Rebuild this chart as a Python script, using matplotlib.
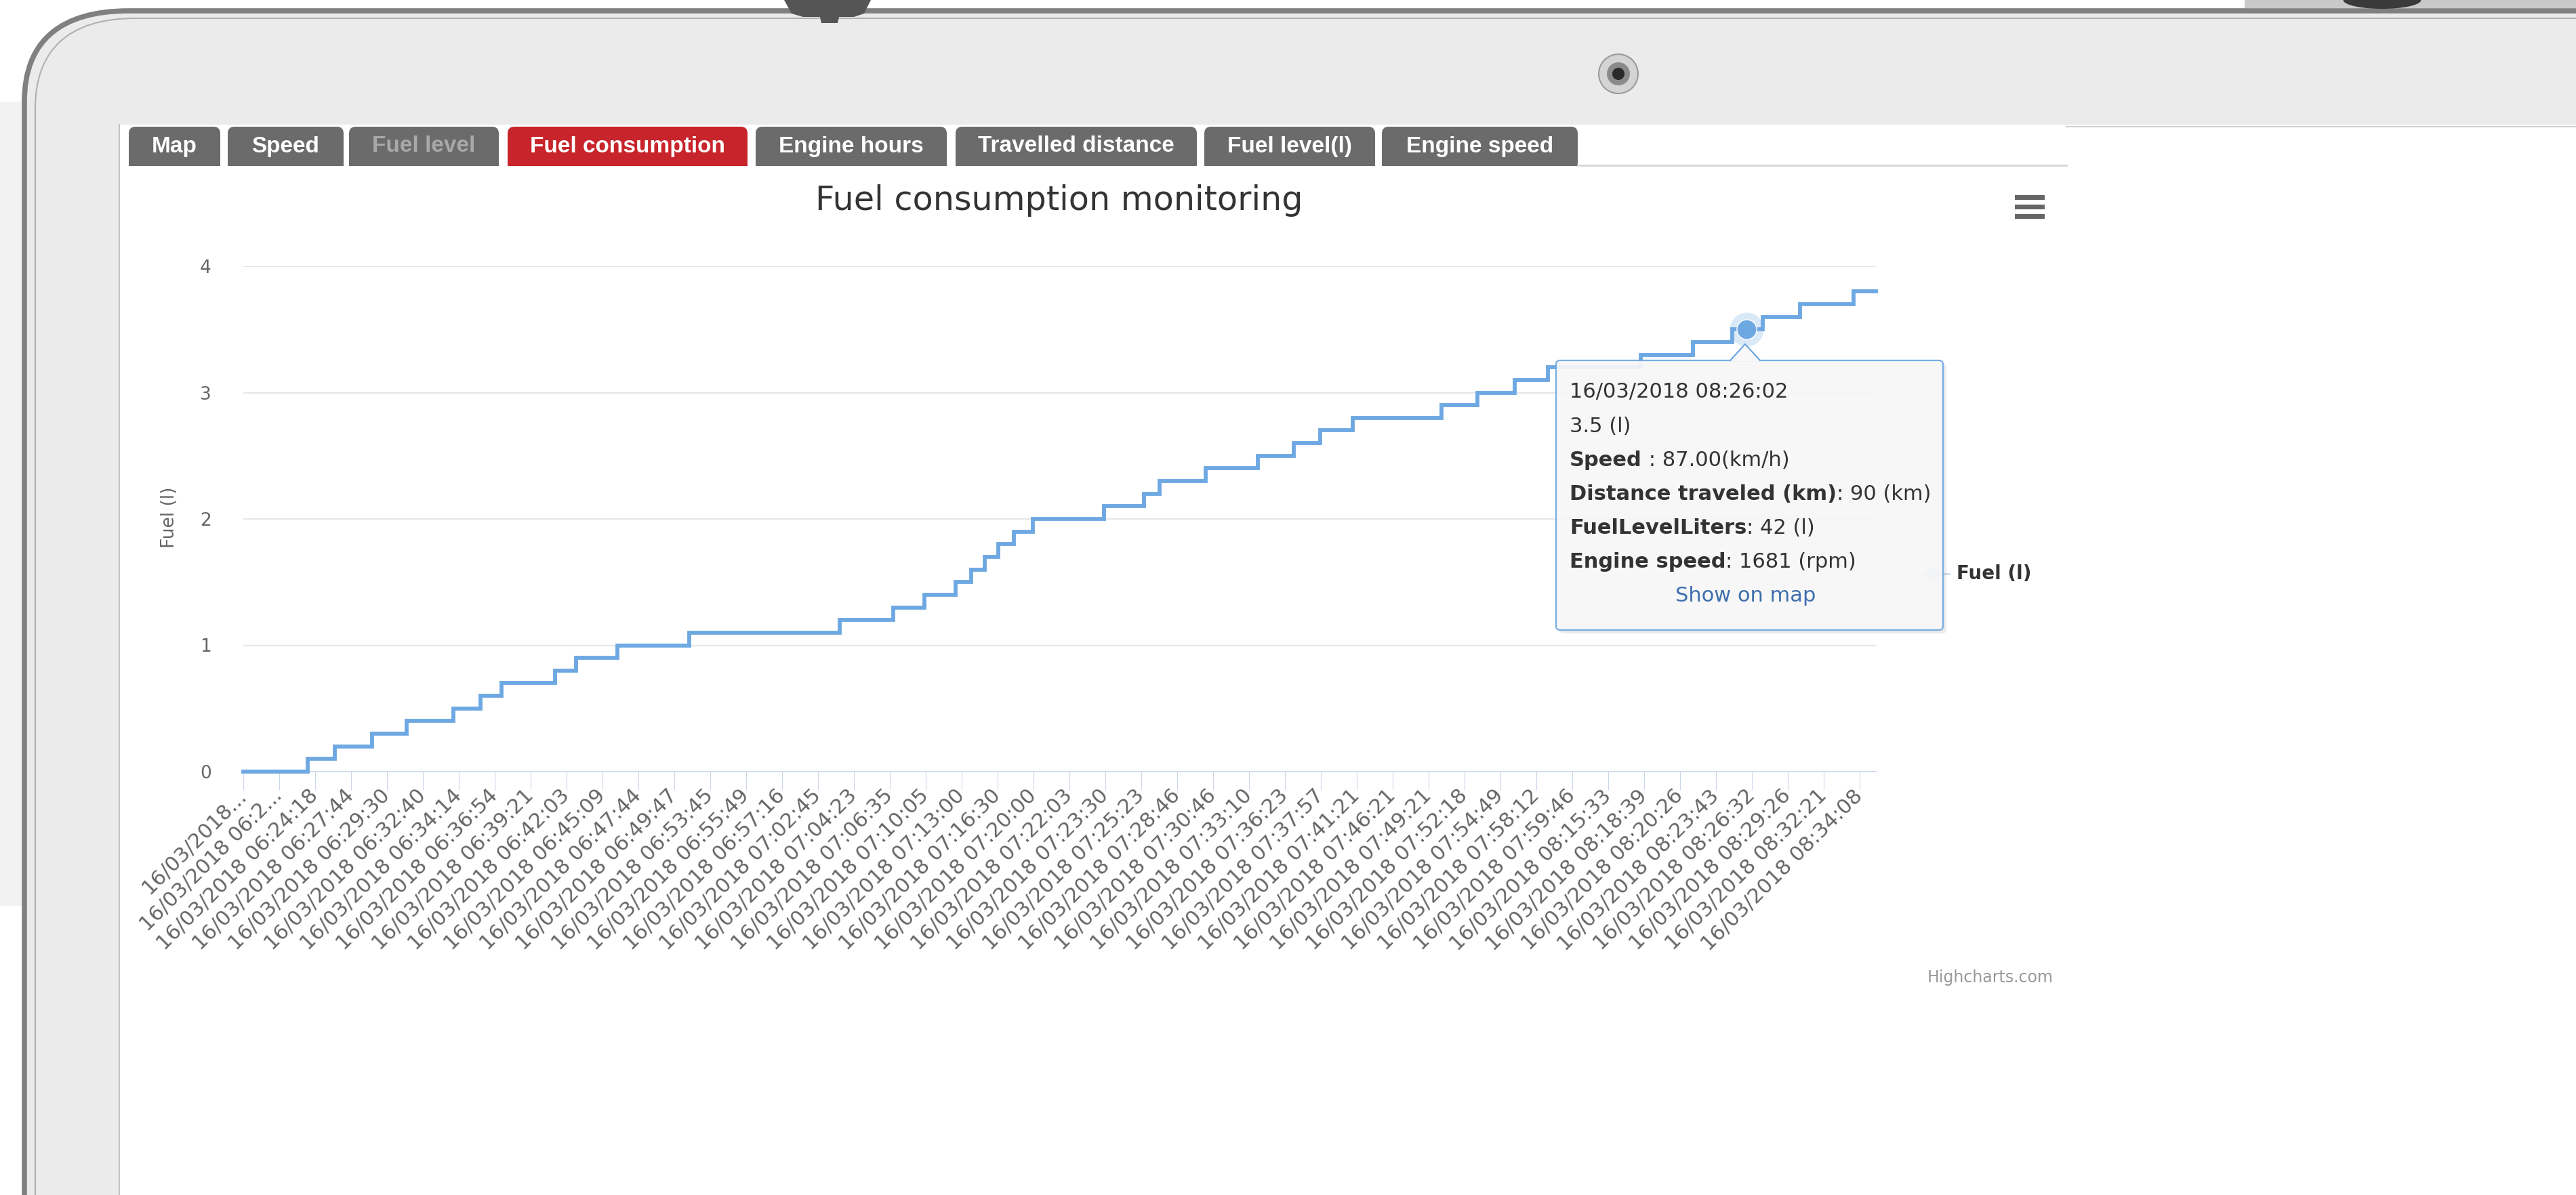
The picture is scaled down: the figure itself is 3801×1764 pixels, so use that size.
import matplotlib
matplotlib.use('Agg')
import matplotlib.pyplot as plt
from matplotlib.patches import FancyBboxPatch, Rectangle, Circle, Polygon, PathPatch, Ellipse
from matplotlib.path import Path

W, H = 3801, 1764

# ---- data ----
tab_names = ['Map', 'Speed', 'Fuel level', 'Fuel consumption', 'Engine hours',
             'Travelled distance', 'Fuel level(l)', 'Engine speed']

time_labels = ['16/03/2018...', '16/03/2018 06:2...',
               '16/03/2018 06:24:18', '16/03/2018 06:27:44', '16/03/2018 06:29:30',
               '16/03/2018 06:32:40', '16/03/2018 06:34:14', '16/03/2018 06:36:54',
               '16/03/2018 06:39:21', '16/03/2018 06:42:03', '16/03/2018 06:45:09',
               '16/03/2018 06:47:44', '16/03/2018 06:49:47', '16/03/2018 06:53:45',
               '16/03/2018 06:55:49', '16/03/2018 06:57:16', '16/03/2018 07:02:45',
               '16/03/2018 07:04:23', '16/03/2018 07:06:35', '16/03/2018 07:10:05',
               '16/03/2018 07:13:00', '16/03/2018 07:16:30', '16/03/2018 07:20:00',
               '16/03/2018 07:22:03', '16/03/2018 07:23:30', '16/03/2018 07:25:23',
               '16/03/2018 07:28:46', '16/03/2018 07:30:46', '16/03/2018 07:33:10',
               '16/03/2018 07:36:23', '16/03/2018 07:37:57', '16/03/2018 07:41:21',
               '16/03/2018 07:46:21', '16/03/2018 07:49:21', '16/03/2018 07:52:18',
               '16/03/2018 07:54:49', '16/03/2018 07:58:12', '16/03/2018 07:59:46',
               '16/03/2018 08:15:33', '16/03/2018 08:18:39', '16/03/2018 08:20:26',
               '16/03/2018 08:23:43', '16/03/2018 08:26:32', '16/03/2018 08:29:26',
               '16/03/2018 08:32:21', '16/03/2018 08:34:08']

# category position where each new reading starts, and the reading (litres)
step_pos = [0.0, 1.79, 2.54, 3.58, 4.54, 5.84, 6.60, 7.18, 8.67, 9.26, 10.41,
            12.42, 16.61, 18.10, 18.96, 19.83, 20.26, 20.64, 21.02, 21.45, 21.98,
            23.96, 25.07, 25.50, 26.80, 28.24, 29.24, 29.97, 30.88, 33.35, 34.36,
            35.40, 36.31, 38.90, 40.36, 41.45, 42.30, 43.34, 44.83]
fuel_l = [0.0, 0.1, 0.2, 0.3, 0.4, 0.5, 0.6, 0.7, 0.8, 0.9, 1.0,
          1.1, 1.2, 1.3, 1.4, 1.5, 1.6, 1.7, 1.8, 1.9, 2.0,
          2.1, 2.2, 2.3, 2.4, 2.5, 2.6, 2.7, 2.8, 2.9, 3.0,
          3.1, 3.2, 3.3, 3.4, 3.5, 3.6, 3.7, 3.8]
x_end = 45.45

hover_pos, hover_val = 41.85, 3.5
tooltip_rows = [('', '16/03/2018 08:26:02'), ('', '3.5 (l)'),
                ('Speed', ' : 87.00(km/h)'), ('Distance traveled (km)', ': 90 (km)'),
                ('FuelLevelLiters', ': 42 (l)'), ('Engine speed', ': 1681 (rpm)')]

# ---- layout (pixels) ----
tab_edges = [(190, 325), (336, 507), (515, 736), (749, 1103), (1115, 1397),
             (1410, 1766), (1777, 2029), (2039, 2328)]
series_color = '#6ea8e2'

fig = plt.figure(figsize=(W / 100, H / 100), dpi=100)
fig.patch.set_facecolor('white')

bg = fig.add_axes([0, 0, 1, 1], zorder=0)
bg.set_xlim(0, W)
bg.set_ylim(H, 0)
bg.axis('off')

# laptop bezel
bg.add_patch(Rectangle((0, 150), 34, 1187, fc='#f2f2f2', ec='none'))
outline = Path([(36, H), (36, 150), (36, 60), (90, 16), (190, 16), (W, 16), (W, H), (36, H)],
               [Path.MOVETO, Path.LINETO, Path.CURVE4, Path.CURVE4, Path.CURVE4,
                Path.LINETO, Path.LINETO, Path.CLOSEPOLY])
bg.add_patch(PathPatch(outline, fc='#ebebeb', ec='none'))
edge = Path([(36, H), (36, 150), (36, 60), (90, 16), (190, 16), (W, 16)],
            [Path.MOVETO, Path.LINETO, Path.CURVE4, Path.CURVE4, Path.CURVE4, Path.LINETO])
bg.add_patch(PathPatch(edge, fc='none', ec='#808080', lw=5.5))
inner = Path([(52, H), (52, 160), (52, 75), (100, 27), (200, 27), (W, 27)],
             [Path.MOVETO, Path.LINETO, Path.CURVE4, Path.CURVE4, Path.CURVE4, Path.LINETO])
bg.add_patch(PathPatch(inner, fc='none', ec='#b0b0b0', lw=1.5))

bg.add_patch(Polygon([(1157, 0), (1285, 0), (1275, 20), (1260, 25), (1238, 25), (1236, 34),
                      (1212, 34), (1210, 25), (1185, 25), (1168, 20)], closed=True,
                     fc='#555555', ec='none'))
bg.add_patch(Rectangle((3312, 0), 489, 12, fc='#c9c9c9', ec='none'))
bg.add_patch(Ellipse((3515, 0), 115, 26, fc='#3a3a3a', ec='none'))

# camera
bg.add_patch(Circle((2388, 109), 29, fc='#d4d4d4', ec='#9a9a9a', lw=1.5))
bg.add_patch(Circle((2388, 109), 17, fc='#8a8a8a', ec='none'))
bg.add_patch(Circle((2388, 109), 9, fc='#2a2a2a', ec='none'))

# screen
bg.add_patch(Rectangle((177, 184), W - 177, H - 184, fc='white', ec='none'))
bg.plot([176, 176], [184, H], color='#c4c4c4', lw=1.5)
bg.plot([3049, W], [187, 187], color='#d0d0d0', lw=1.5)
bg.plot([2328, 3049], [244, 244], color='#d6d6d6', lw=2)

# tabs
for (x0, x1), name in zip(tab_edges, tab_names):
    fc = '#c8242b' if name == 'Fuel consumption' else '#6b6b6b'
    bg.add_patch(FancyBboxPatch((x0, 187), x1 - x0, 58,
                                boxstyle='round,pad=0,rounding_size=10', fc=fc, ec='none'))
    bg.add_patch(Rectangle((x0, 215), x1 - x0, 30, fc=fc, ec='none'))
    tc = '#a8a8a8' if name == 'Fuel level' else 'white'
    bg.text((x0 + x1) / 2, 216, name, ha='center', va='center', color=tc,
            fontsize=24, fontweight='bold', family='Liberation Sans')

# title, axis title, menu icon, credit
bg.text(1563, 296, 'Fuel consumption monitoring', ha='center', va='center',
        fontsize=35.5, color='#333333')
bg.text(250, 764, 'Fuel (l)', ha='center', va='center', rotation=90,
        fontsize=19, color='#666666')
for yy in (291, 305, 319):
    bg.add_patch(Rectangle((2973, yy - 3.5), 44, 7, fc='#666666', ec='none'))
bg.text(3030, 1443, 'Highcharts.com', ha='right', va='center', fontsize=17, color='#999999')

# ---- chart ----
left, right, y0, y4 = 359, 2768, 1139, 393
ax = fig.add_axes([left / W, 1 - y0 / H, (right - left) / W, (y0 - y4) / H], zorder=2)
ax.patch.set_alpha(0)
xs = step_pos + [x_end]
ys = fuel_l + [fuel_l[-1]]
ax.plot(xs, ys, drawstyle='steps-post', color=series_color, lw=4.2,
        solid_joinstyle='miter', clip_on=False, zorder=3)
ax.plot([hover_pos], [hover_val], 'o', ms=36, color=series_color, alpha=0.25,
        mec='none', clip_on=False, zorder=4)
ax.plot([hover_pos], [hover_val], 'o', ms=21, color=series_color, mec='white',
        mew=1, clip_on=False, zorder=5)

ax.set_xlim(0, x_end)
ax.set_ylim(0, 4)
ax.set_yticks([0, 1, 2, 3, 4])
ax.set_xticks(range(len(time_labels)))
ax.set_xticklabels(time_labels, rotation=45, ha='right', va='center',
                   rotation_mode='anchor', fontsize=22, color='#666666')
ax.tick_params(axis='y', length=0, pad=34, labelsize=19, labelcolor='#666666')
ax.tick_params(axis='x', length=19.5, width=0.8, color='#ccd6eb', pad=3, direction='out')
ax.grid(axis='y', color='#e6e6e6', lw=1.5)
ax.set_axisbelow(True)
for s in ('top', 'right', 'left'):
    ax.spines[s].set_visible(False)
ax.spines['bottom'].set_color('#ccd6eb')
ax.spines['bottom'].set_linewidth(1.2)

# ---- legend + tooltip overlay ----
top = fig.add_axes([0, 0, 1, 1], zorder=5)
top.set_xlim(0, W)
top.set_ylim(H, 0)
top.axis('off')
top.plot([2832, 2876], [847, 847], color=series_color, lw=2, alpha=0.35)
top.add_patch(Circle((2852, 847), 10, fc=series_color, ec='none', alpha=0.35))
top.text(2887, 847, 'Fuel (l)', ha='left', va='center', fontsize=20,
         fontweight='bold', color='#333333')

# tooltip shadow, box and pointer
top.add_patch(FancyBboxPatch((2301, 537), 571, 398, boxstyle='round,pad=0,rounding_size=6',
                             fc='#000000', ec='none', alpha=0.08, zorder=6))
top.add_patch(FancyBboxPatch((2296, 532), 571, 398, boxstyle='round,pad=0,rounding_size=6',
                             fc='#f8f8f8', ec=series_color, lw=1.6, alpha=0.93, zorder=7))
top.add_patch(Polygon([(2553, 533.5), (2575, 508), (2597, 533.5)], closed=True,
                      fc='#f8f8f8', ec='none', zorder=8))
top.plot([2553, 2575, 2597], [532, 508, 532], color=series_color, lw=1.6, zorder=8)

row_y = [578, 630, 680, 730, 780, 830]
for (bold, rest), yy in zip(tooltip_rows, row_y):
    if bold:
        t1 = top.text(2316, yy, bold, ha='left', va='center', fontsize=22,
                      fontweight='bold', color='#333333', zorder=9)
        top.annotate(rest, xy=(1, 0.5), xycoords=t1, ha='left', va='center',
                     fontsize=22, color='#333333', zorder=9)
    else:
        top.text(2316, yy, rest, ha='left', va='center', fontsize=22,
                 color='#333333', zorder=9)
top.text(2576, 880, 'Show on map', ha='center', va='center', fontsize=22,
         color='#3f6fad', zorder=9)

fig.savefig('out.png', dpi=100)
